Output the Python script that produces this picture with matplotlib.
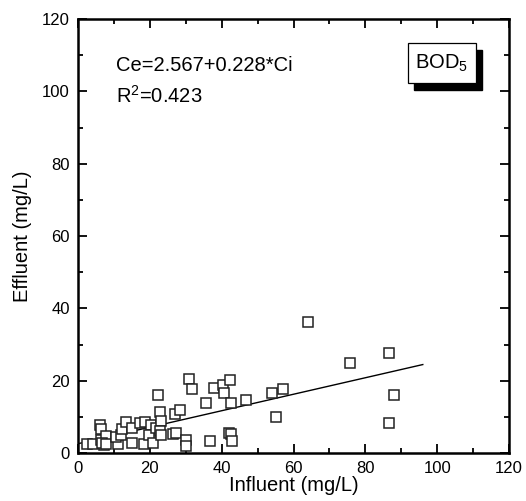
import matplotlib
matplotlib.use("Agg")
import matplotlib.pyplot as plt
import numpy as np
from matplotlib.patches import Rectangle

plt.rcParams['font.family'] = ['Liberation Sans', 'DejaVu Sans']
plt.rcParams['mathtext.fontset'] = 'custom'
plt.rcParams['mathtext.rm'] = 'Liberation Sans'
plt.rcParams['mathtext.it'] = 'Liberation Sans:italic'

# Data
influent = [2.5, 4.3, 6.2, 6.5, 6.3, 7.7, 7.1, 6.6, 7.9, 11.0, 10.6, 12.0, 12.3, 13.3,
            15.0, 15.1, 17.4, 18.7, 18.4, 20.2, 19.7, 20.8, 21.6, 22.2, 22.9, 23.1,
            22.9, 23.0, 26.9, 28.5, 26.4, 27.4, 30.8, 31.8, 30.2, 30.2, 35.6, 36.7,
            38.0, 40.3, 40.6, 42.2, 42.6, 42.1, 42.5, 42.9, 46.9, 53.9, 55.0, 57.2,
            63.9, 75.7, 86.6, 87.9, 86.7]
effluent = [2.4, 2.6, 7.8, 6.6, 3.7, 4.6, 2.3, 2.9, 2.5, 2.4, 4.4, 4.9, 6.6, 8.6,
            7.0, 2.8, 8.4, 8.7, 2.4, 7.8, 4.9, 2.9, 6.8, 15.9, 11.4, 8.9,
            6.1, 5.0, 10.9, 11.8, 5.2, 5.6, 20.5, 17.7, 3.5, 2.0, 13.9, 3.4,
            18.0, 18.7, 16.7, 20.2, 13.8, 5.6, 5.2, 3.3, 14.6, 16.6, 10.0, 17.7,
            36.1, 24.8, 27.7, 16.0, 8.3]
fit_intercept = 2.567
fit_slope = 0.228
fit_range = [0, 96]

fig = plt.figure(figsize=(5.26, 5.01), dpi=100)
ax = fig.add_axes([78/526, 1 - 453/501, 431/526, 434/501])

ax.plot(influent, effluent, linestyle='none', marker='s', markersize=7,
        markerfacecolor='white', markeredgecolor='#222222', markeredgewidth=1.1, zorder=3)
xf = np.array(fit_range, dtype=float)
ax.plot(xf, fit_intercept + fit_slope * xf, color='black', linewidth=1.0, zorder=2)

ax.set_xlim(0, 120)
ax.set_ylim(0, 120)
ax.set_xticks(np.arange(0, 121, 20))
ax.set_yticks(np.arange(0, 121, 20))
ax.set_xticks(np.arange(10, 120, 20), minor=True)
ax.set_yticks(np.arange(10, 120, 20), minor=True)
ax.tick_params(which='both', direction='in', top=True, right=True, width=1.3, labelsize=12)
ax.tick_params(which='major', length=6.5, pad=6)
ax.tick_params(which='minor', length=3.5)
for s in ax.spines.values():
    s.set_linewidth(1.8)

ax.set_xlabel('Influent (mg/L)', fontsize=14.5, labelpad=0)
ax.set_ylabel('Effluent (mg/L)', fontsize=14.5, labelpad=7)

ax.text(0.088, 0.892, 'Ce=2.567+0.228*Ci', transform=ax.transAxes, fontsize=14.5,
        va='center', ha='left')
ax.text(0.088, 0.822, r'R$^{\mathrm{2}}$=0.423', transform=ax.transAxes, fontsize=14.5,
        va='center', ha='left')

# BOD5 label box with shadow
bx0, by0 = (407.7 - 78) / 431, (453 - 83.3) / 434
bw, bh = (476 - 407.7) / 431, 40 / 434
ax.add_patch(Rectangle((bx0 + 6/431, by0 - 7/434), bw, bh, transform=ax.transAxes,
                       facecolor='black', edgecolor='black', zorder=5, clip_on=False))
ax.add_patch(Rectangle((bx0, by0), bw, bh, transform=ax.transAxes,
                       facecolor='white', edgecolor='black', linewidth=0.9, zorder=6, clip_on=False))
ax.text(bx0 + bw / 2, by0 + bh / 2, r'BOD$_{\mathrm{5}}$', transform=ax.transAxes,
        fontsize=14.5, ha='center', va='center', zorder=7)

fig.savefig('out.png', dpi=100)
